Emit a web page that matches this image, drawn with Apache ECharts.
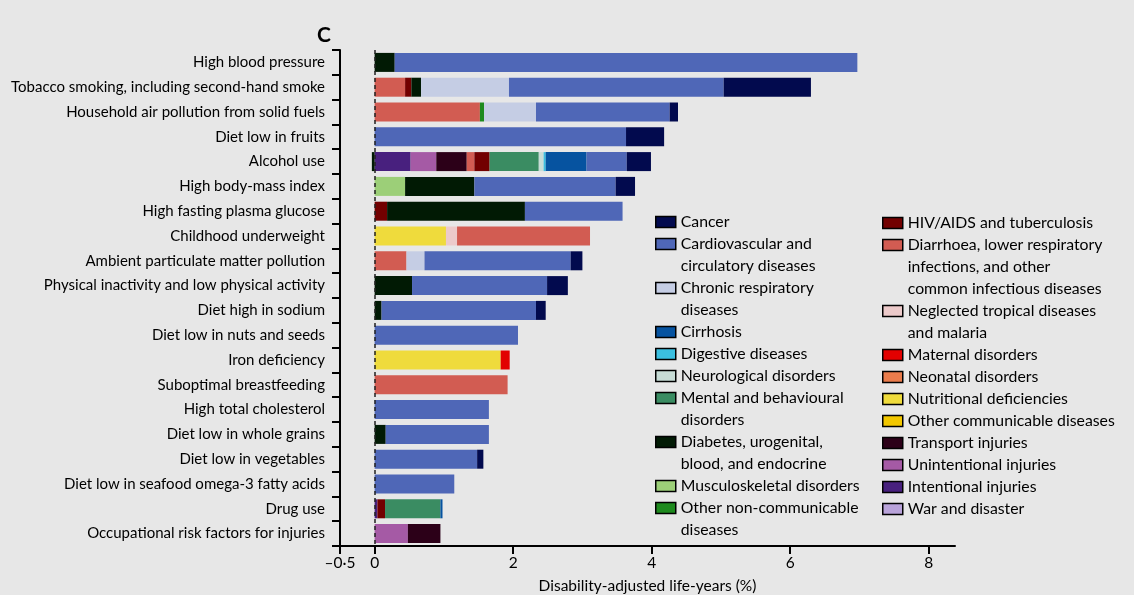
<!DOCTYPE html>
<html>
<head>
<meta charset="utf-8">
<script src="https://cdn.jsdelivr.net/npm/echarts@6/dist/echarts.min.js"></script>
<style>
  html, body { margin: 0; padding: 0; background: #e7e7e7; }
  #main { width: 1134px; height: 595px; }
</style>
</head>
<body>
<div id="main"></div>
<script>
// risk factors, top to bottom
const riskFactors = [
  'High blood pressure',
  'Tobacco smoking, including second-hand smoke',
  'Household air pollution from solid fuels',
  'Diet low in fruits',
  'Alcohol use',
  'High body-mass index',
  'High fasting plasma glucose',
  'Childhood underweight',
  'Ambient particulate matter pollution',
  'Physical inactivity and low physical activity',
  'Diet high in sodium',
  'Diet low in nuts and seeds',
  'Iron deficiency',
  'Suboptimal breastfeeding',
  'High total cholesterol',
  'Diet low in whole grains',
  'Diet low in vegetables',
  'Diet low in seafood omega-3 fatty acids',
  'Drug use',
  'Occupational risk factors for injuries'
];

// DALYs (%) per cause, one value per risk factor (null = none)
const intentional   = [null, null, null, null, 0.52, null, null, null, null, null, null, null, null, null, null, null, null, null, 0.04, null];
const unintentional = [null, null, null, null, 0.37, null, null, null, null, null, null, null, null, null, null, null, null, null, null, 0.48];
const transport     = [null, null, null, null, 0.44, null, null, null, null, null, null, null, null, null, null, null, null, null, null, 0.47];
const nutritional   = [null, null, null, null, null, null, null, 1.03, null, null, null, null, 1.82, null, null, null, null, null, null, null];
const tropical      = [null, null, null, null, null, null, null, 0.16, null, null, null, null, null, null, null, null, null, null, null, null];
const maternal      = [null, null, null, null, null, null, null, null, null, null, null, null, 0.13, null, null, null, null, null, null, null];
const diarrhoea     = [null, 0.44, 1.52, null, 0.11, null, null, 1.92, 0.46, null, null, null, null, 1.92, null, null, null, null, null, null];
const hivTb         = [null, 0.09, null, null, 0.22, null, 0.18, null, null, null, null, null, null, null, null, null, null, null, 0.11, null];
const musculo       = [null, null, null, null, null, 0.44, null, null, null, null, null, null, null, null, null, null, null, null, null, null];
const otherNcd      = [null, null, 0.06, null, null, null, null, null, null, null, null, null, null, null, null, null, null, null, null, null];
const diabetes      = [0.29, 0.14, null, null, -0.04, 1.00, 1.99, null, null, 0.54, 0.10, null, null, null, null, 0.16, null, null, null, null];
const mental        = [null, null, null, null, 0.71, null, null, null, null, null, null, null, null, null, null, null, null, null, 0.80, null];
const neuro         = [null, null, null, null, 0.07, null, null, null, null, null, null, null, null, null, null, null, null, null, null, null];
const digestive     = [null, null, null, null, 0.03, null, null, null, null, null, null, null, null, null, null, null, null, null, null, null];
const cirrhosis     = [null, null, null, null, 0.59, null, null, null, null, null, null, null, null, null, null, null, null, null, 0.03, null];
const chronicResp   = [null, 1.27, 0.75, null, null, null, null, null, 0.26, null, null, null, null, null, null, null, null, null, null, null];
const cardio        = [6.68, 3.10, 1.93, 3.63, 0.58, 2.04, 1.41, null, 2.11, 1.95, 2.23, 2.07, null, null, 1.65, 1.49, 1.48, 1.15, null, null];
const cancer        = [null, 1.26, 0.12, 0.55, 0.35, 0.28, null, null, 0.17, 0.30, 0.14, null, null, null, null, null, 0.09, null, null, null];
const neonatal      = riskFactors.map(() => null);
const otherComm     = riskFactors.map(() => null);
const war           = riskFactors.map(() => null);

// x axis ticks
const xTicks = [-0.5, 0, 2, 4, 6, 8];

// legend columns (line breaks as printed)
const legendLeft = [
  'Cancer',
  'Cardiovascular and\ncirculatory diseases',
  'Chronic respiratory\ndiseases',
  'Cirrhosis',
  'Digestive diseases',
  'Neurological disorders',
  'Mental and behavioural\ndisorders',
  'Diabetes, urogenital,\nblood, and endocrine',
  'Musculoskeletal disorders',
  'Other non-communicable\ndiseases'
];
const legendRight = [
  'HIV/AIDS and tuberculosis',
  'Diarrhoea, lower respiratory\ninfections, and other\ncommon infectious diseases',
  'Neglected tropical diseases\nand malaria',
  'Maternal disorders',
  'Neonatal disorders',
  'Nutritional deficiencies',
  'Other communicable diseases',
  'Transport injuries',
  'Unintentional injuries',
  'Intentional injuries',
  'War and disaster'
];

// stacking order, left to right inside each bar
const stackOrder = [
  ['Intentional injuries', intentional, '#48207e'],
  ['Unintentional injuries', unintentional, '#a55aa5'],
  ['Transport injuries', transport, '#2c0018'],
  ['Nutritional deficiencies', nutritional, '#efdb3c'],
  ['Neglected tropical diseases and malaria', tropical, '#eccaca'],
  ['Maternal disorders', maternal, '#e20000'],
  ['Diarrhoea, lower respiratory infections, and other common infectious diseases', diarrhoea, '#d25c52'],
  ['HIV/AIDS and tuberculosis', hivTb, '#720000'],
  ['Musculoskeletal disorders', musculo, '#9ccf78'],
  ['Other non-communicable diseases', otherNcd, '#1e8a1e'],
  ['Diabetes, urogenital, blood, and endocrine', diabetes, '#011a04'],
  ['Mental and behavioural disorders', mental, '#3a8c62'],
  ['Neurological disorders', neuro, '#c7dcd6'],
  ['Digestive diseases', digestive, '#3bbfe0'],
  ['Cirrhosis', cirrhosis, '#0653a0'],
  ['Chronic respiratory diseases', chronicResp, '#c5cde4'],
  ['Cardiovascular and circulatory diseases', cardio, '#4f67b7'],
  ['Cancer', cancer, '#020a4e'],
  ['Neonatal disorders', neonatal, '#ea7c4c'],
  ['Other communicable diseases', otherComm, '#f2c700'],
  ['War and disaster', war, '#b9a3da']
];

const font = 'Lato';
const lineH = 22;

// one legend per entry so the swatch sits on the first text line
function buildLegends(list, left, firstCenter) {
  let line = 0;
  return list.map((label) => {
    const n = label.split('\n').length;
    const top = firstCenter + line * lineH - lineH / 2 - (n - 1) * lineH;
    line += n;
    return {
      left: left,
      top: top,
      padding: 0,
      orient: 'vertical',
      selectedMode: false,
      data: [label.replace(/\n/g, ' ')],
      icon: 'rect',
      itemWidth: 20,
      itemHeight: 11,
      itemStyle: { borderColor: '#000', borderWidth: 1.5 },
      formatter: () => '\n'.repeat(n - 1) + label,
      textStyle: { fontFamily: font, fontSize: 15.8, lineHeight: lineH, color: '#000' }
    };
  });
}

const series = stackOrder.map((s, i) => {
  const item = {
    name: s[0],
    type: 'bar',
    stack: 'total',
    barWidth: 19,
    data: s[1],
    itemStyle: { color: s[2] }
  };
  if (i === stackOrder.length - 1) {
    item.markLine = {
      silent: true,
      symbol: 'none',
      label: { show: false },
      lineStyle: { type: [4, 3], color: '#222', width: 1.5 },
      data: [{ xAxis: 0 }]
    };
  }
  return item;
});

const myChart = echarts.init(document.getElementById('main'));
myChart.setOption({
  animation: false,
  backgroundColor: '#e7e7e7',
  title: {
    text: 'C',
    left: 312,
    top: 20,
    textStyle: { fontFamily: font, fontSize: 21, fontWeight: 'bold', color: '#000' }
  },
  legend: buildLegends(legendLeft, 655, 222).concat(buildLegends(legendRight, 882, 223)),
  grid: { left: 340, right: 179, top: 50, bottom: 49, containLabel: false, outerBoundsMode: 'none' },
  xAxis: {
    type: 'value',
    min: -0.5,
    max: 8.38,
    name: 'Disability-adjusted life-years (%)',
    nameLocation: 'middle',
    nameGap: 32,
    nameTextStyle: { fontFamily: font, fontSize: 15.5, color: '#000' },
    axisLine: { show: true, lineStyle: { color: '#000', width: 2 } },
    axisTick: { show: true, length: 8, lineStyle: { color: '#000', width: 2 }, customValues: xTicks },
    axisLabel: {
      margin: 9,
      fontFamily: font,
      fontSize: 15.5,
      color: '#000',
      customValues: xTicks,
      formatter: (v) => String(v).replace('-', '\u2013').replace('.', '\u00b7')
    },
    splitLine: { show: false }
  },
  yAxis: {
    type: 'category',
    inverse: true,
    data: riskFactors,
    axisLine: { onZero: false, lineStyle: { color: '#000', width: 2 } },
    axisTick: { show: true, length: 8, lineStyle: { color: '#000', width: 2 } },
    axisLabel: { margin: 15, fontFamily: font, fontSize: 15, color: '#000' }
  },
  series: series
});
</script>
</body>
</html>
